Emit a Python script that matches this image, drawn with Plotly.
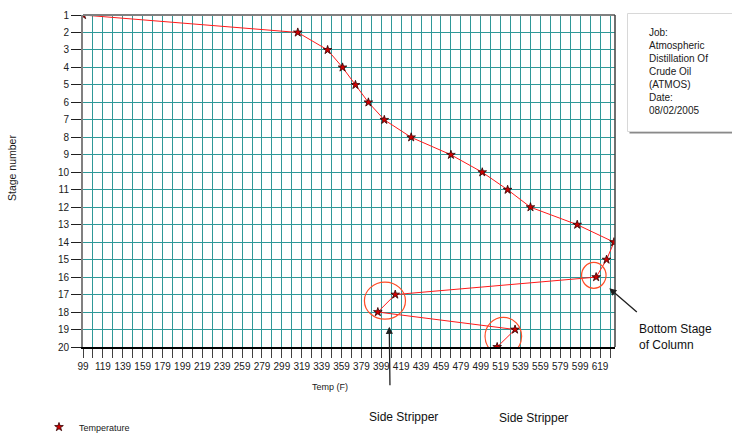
import plotly.graph_objects as go

# Column temperature profile, stage 1 (top) to stage 20
stages = list(range(1, 21))
temps_f = [99, 315, 345, 360, 373, 386, 402, 429, 469, 500.5,
           526, 549, 596, 633, 625.5, 615, 413, 395.5, 533.5, 515.5]

x_min, x_max = 99, 634
x_grid = list(range(99, 634, 10))
x_labels = [str(v) if (v - 99) % 20 == 0 else "" for v in x_grid]
y_ticks = list(range(1, 21))

job_lines = ["Job:", "Atmospheric", "Distillation Of", "Crude Oil", "(ATMOS)",
             "Date:", "08/02/2005"]

W, H = 732, 435
L, R, T, B = 83, 117, 15, 88
PW, PH = W - L - R, H - T - B


def px(xp):
    return (xp - L) / PW


def py(yp):
    return (H - B - yp) / PH


grid_col = "#2f9898"
tick_font = dict(family="Liberation Sans Narrow, Arial Narrow, Liberation Sans, Arial",
                 size=10, color="#202020")
txt = "Liberation Sans, Arial, sans-serif"

fig = go.Figure()
fig.add_trace(go.Scatter(
    x=temps_f, y=stages, mode="lines",
    line=dict(color="#ff1a1a", width=1), showlegend=False, hoverinfo="skip"))
fig.add_trace(go.Scatter(
    x=temps_f, y=stages, mode="markers", name="Temperature",
    marker=dict(symbol="star", size=6.5, color="#d00000",
                line=dict(color="#300000", width=0.8))))

shapes = []
# plot frame: top and right borders
shapes.append(dict(type="line", xref="paper", yref="paper", x0=0, x1=1, y0=1, y1=1,
                   line=dict(color="#808080", width=2)))
shapes.append(dict(type="line", xref="paper", yref="paper", x0=1, x1=1, y0=0, y1=1,
                   line=dict(color="#404040", width=1.5)))

# highlight circles around the side strippers and bottom stage
circle_col = "#ff4d26"
for x0, x1, y0, y1 in [(382, 423.3, 16.29, 18.41),
                       (503.3, 540.1, 18.30, 20.48),
                       (600.4, 625, 15.16, 16.64)]:
    shapes.append(dict(type="circle", xref="x", yref="y", x0=x0, x1=x1, y0=y0, y1=y1,
                       line=dict(color=circle_col, width=1.2)))

# job info box with drop shadow
shapes.append(dict(type="rect", xref="paper", yref="paper",
                   x0=px(629.5), x1=px(740), y0=py(133.5), y1=py(15.5),
                   fillcolor="#8a8a8a", line=dict(width=0), layer="above"))
shapes.append(dict(type="rect", xref="paper", yref="paper",
                   x0=px(627.5), x1=px(740), y0=py(131.5), y1=py(13.5),
                   fillcolor="white", line=dict(color="#d8d8d8", width=1), layer="above"))

annotations = []
annotations.append(dict(xref="paper", yref="paper", x=px(647), y=py(24.5),
                        xanchor="left", yanchor="top", align="left", showarrow=False,
                        text="<br>".join(job_lines),
                        font=dict(family=txt, size=10, color="#202020")))

# pointer arrows
arrow_kw = dict(showarrow=True, arrowhead=2, arrowsize=1.1, arrowwidth=1.3,
                arrowcolor="#202020", text="", xref="x", yref="y")
annotations.append(dict(x=407, y=18.84, ax=0.7, ay=60, **arrow_kw))
annotations.append(dict(x=527.7, y=20.55, ax=5.7, ay=38.5, **arrow_kw))
annotations.append(dict(x=628.3, y=16.64, ax=29, ay=25, **arrow_kw))

annotations.append(dict(xref="paper", yref="paper", x=px(403), y=py(416.7),
                        xanchor="center", yanchor="middle", showarrow=False,
                        text="Side Stripper", font=dict(family=txt, size=12, color="#111")))
annotations.append(dict(xref="paper", yref="paper", x=px(533.3), y=py(418.3),
                        xanchor="center", yanchor="middle", showarrow=False,
                        text="Side Stripper", font=dict(family=txt, size=12, color="#111")))
annotations.append(dict(xref="paper", yref="paper", x=px(637), y=py(337),
                        xanchor="left", yanchor="middle", align="left", showarrow=False,
                        text="Bottom Stage<br>of Column",
                        font=dict(family=txt, size=12, color="#111")))
annotations.append(dict(xref="paper", yref="paper", x=px(330), y=py(386.7),
                        xanchor="center", yanchor="middle", showarrow=False,
                        text="Temp (F)", font=dict(family=txt, size=9, color="#202020")))
annotations.append(dict(xref="paper", yref="paper", x=px(12), y=py(168),
                        xanchor="center", yanchor="middle", showarrow=False, textangle=-90,
                        text="Stage number", font=dict(family=txt, size=10.5, color="#202020")))

fig.update_layout(
    width=W, height=H,
    margin=dict(l=L, r=R, t=T, b=B, pad=0, autoexpand=False),
    paper_bgcolor="white", plot_bgcolor="white",
    shapes=shapes, annotations=annotations,
    showlegend=True,
    legend=dict(x=px(39), y=py(427), xanchor="left", yanchor="middle",
                font=dict(family=txt, size=9, color="#202020"),
                bgcolor="rgba(0,0,0,0)", borderwidth=0),
    xaxis=dict(range=[x_min, x_max], tickmode="array", tickvals=x_grid, ticktext=x_labels,
               showgrid=True, gridcolor=grid_col, gridwidth=1,
               ticks="outside", ticklen=9, tickcolor="#404040", tickwidth=1,
               showline=True, linecolor="black", linewidth=1.5,
               tickfont=tick_font, zeroline=False, fixedrange=True),
    yaxis=dict(range=[20, 1], tickmode="array", tickvals=y_ticks,
               showgrid=True, gridcolor=grid_col, gridwidth=1,
               ticks="outside", ticklen=10, tickcolor="#202020", tickwidth=1,
               showline=True, linecolor="#808080", linewidth=2,
               tickfont=tick_font, zeroline=False, fixedrange=True),
)

fig.write_html("out.html")
